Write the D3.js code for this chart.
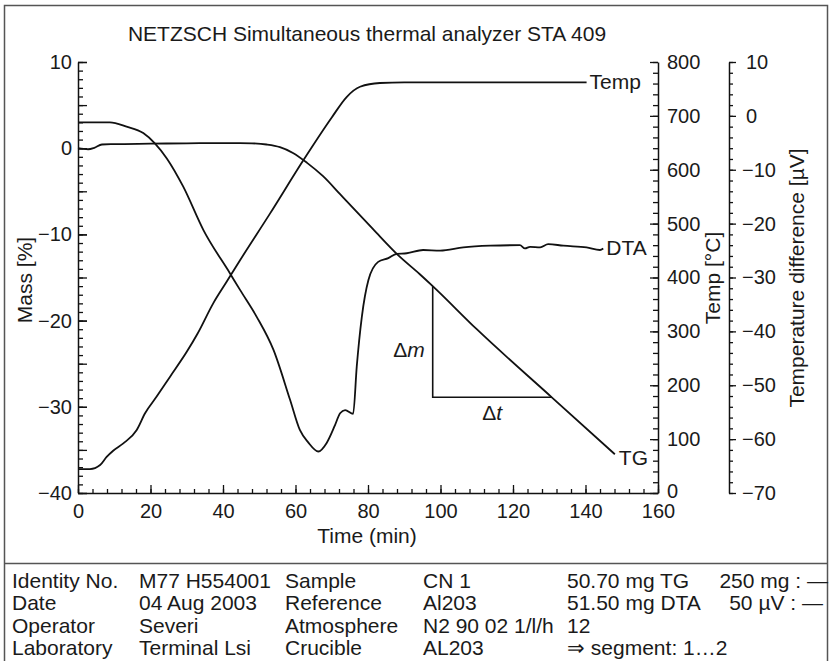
<!DOCTYPE html>
<html>
<head>
<meta charset="utf-8">
<script src="https://cdn.jsdelivr.net/npm/d3@7"></script>
<style>
  html, body { margin: 0; padding: 0; background: #fff; }
  svg { display: block; }
  text { font-family: "Liberation Sans", Arial, Helvetica, sans-serif; fill: #1a1a1a; }
</style>
</head>
<body>
<svg id="chart" width="831" height="661"></svg>
<script>
// ---------- DATA ----------
const title = "NETZSCH Simultaneous thermal analyzer STA 409";

// Time (min), Mass (%)
const tgTime = [0, 2.8, 4.5, 6.6, 10, 20, 30, 40, 44.7, 48, 52, 55.7, 59.3, 63.2, 67.6, 72.3, 74.1, 81.4, 88.3, 94.3, 97.85, 110, 130.7, 148.1];
const tgMass = [0, -0.12, 0.05, 0.43, 0.47, 0.52, 0.57, 0.6, 0.6, 0.57, 0.43, 0.12, -0.55, -1.7, -3.25, -5.34, -6.15, -9.4, -12.41, -14.62, -16.0, -21.0, -28.9, -35.5];

// Time (min), Temperature (°C)
const tempTime = [0, 3.3, 6.1, 7.9, 9.7, 12.5, 16.2, 18.5, 21.7, 25.4, 30, 33, 37.3, 41, 44.7, 53, 62.2, 70, 74.1, 77.8, 83.3, 90, 110, 140.3];
const tempValue = [44.5, 44.5, 52, 67, 78.5, 92, 117, 148, 179, 216, 262, 296, 352, 392, 432, 519, 618, 697, 735, 754, 761, 762, 762, 762];

// Time (min), Temperature difference (µV)
const dtaTime = [0, 8.8, 13.4, 18, 21.2, 24.5, 29, 34.6, 41.9, 44.7, 49.3, 53.9, 58.5, 61.2, 63.5, 66.3, 68.6, 70.9, 72.3, 73.7, 75.9, 76.9, 78.3, 80.1, 82.8, 85.6, 87.9, 90.7, 95.2, 99.9, 106.3, 113.7, 121.9, 123.3, 124.7, 127.5, 129.7, 133.9, 140.3, 144.0, 144.9];
const dtaValue = [-1.2, -1.2, -2.0, -3.2, -5.1, -7.9, -13.1, -21.2, -29.2, -32.3, -37.3, -43.4, -52.7, -58.3, -60.6, -62.3, -60.7, -57.4, -55.2, -54.6, -55.3, -46.5, -37.3, -30.5, -27.1, -26.4, -25.6, -25.5, -24.9, -25.0, -24.4, -24.1, -24.0, -24.6, -24.3, -24.4, -23.8, -24.1, -24.4, -24.9, -24.6];

// Δm / Δt construction (time, mass)
const deltaTimes = [97.85, 130.7];
const deltaMass = [-16.0, -28.9];

// Axis ticks
const timeTicks = [0, 20, 40, 60, 80, 100, 120, 140, 160];
const massTicks = [10, 0, -10, -20, -30, -40];
const tempTicks = [0, 100, 200, 300, 400, 500, 600, 700, 800];
const dtaTicks = [10, 0, -10, -20, -30, -40, -50, -60, -70];

// Info table
const infoCol1 = ["Identity No.", "Date", "Operator", "Laboratory"];
const infoCol2 = ["M77 H554001", "04 Aug 2003", "Severi", "Terminal Lsi"];
const infoCol3 = ["Sample", "Reference", "Atmosphere", "Crucible"];
const infoCol4 = ["CN 1", "Al203", "N2 90 02 1/l/h", "AL203"];
const infoCol5 = ["50.70 mg TG", "51.50 mg DTA", "12", "\u21D2 segment: 1\u20262"];
const infoCol6 = ["250 mg : \u2014", "50 \u00B5V : \u2014", "", ""];

// ---------- DRAWING ----------
const svg = d3.select("#chart");
const FS = 21;      // general text
const TFS = 20;     // tick labels

const x = d3.scaleLinear().domain([0, 160]).range([78, 658]);
const yMass = d3.scaleLinear().domain([-40, 10]).range([493, 62]);
const yTemp = d3.scaleLinear().domain([0, 800]).range([493, 62]);
const yDta = d3.scaleLinear().domain([-70, 10]).range([493, 62]);

// frame
svg.append("rect").attr("x", 4.5).attr("y", 5.5).attr("width", 823).attr("height", 660)
  .attr("fill", "none").attr("stroke", "#555").attr("stroke-width", 1.5);
svg.append("line").attr("x1", 4.5).attr("x2", 827.5).attr("y1", 563.5).attr("y2", 563.5)
  .attr("stroke", "#555").attr("stroke-width", 1.5);

svg.append("text").attr("x", 367).attr("y", 41).attr("text-anchor", "middle")
  .style("font-size", FS + "px").text(title);

function styleAxis(g, showDomain) {
  g.selectAll("line").attr("stroke", "#111").attr("stroke-width", 1.3);
  g.select(".domain").attr("stroke", showDomain ? "#111" : "none").attr("stroke-width", 1.5);
  g.selectAll("text").style("font-size", TFS + "px").attr("fill", "#1a1a1a")
    .style("font-family", '"Liberation Sans", Arial, sans-serif');
}

// Left (Mass) axis: ticks point inward
const gm1 = svg.append("g").attr("transform", "translate(78,0)")
  .call(d3.axisLeft(yMass).tickValues(d3.range(-40, 11, 1)).tickSizeInner(-5).tickSizeOuter(0).tickFormat(""));
styleAxis(gm1, true);
const gm2 = svg.append("g").attr("transform", "translate(78,0)")
  .call(d3.axisLeft(yMass).tickValues(d3.range(-40, 11, 5)).tickSizeInner(-9).tickSizeOuter(0).tickFormat(""));
styleAxis(gm2, false);
const gm3 = svg.append("g").attr("transform", "translate(78,0)")
  .call(d3.axisLeft(yMass).tickValues(massTicks).tickSizeInner(-9).tickSizeOuter(0).tickPadding(6));
styleAxis(gm3, false);

// Bottom (Time) axis
const gx1 = svg.append("g").attr("transform", "translate(0,493)")
  .call(d3.axisBottom(x).tickValues(d3.range(0, 161, 4)).tickSizeInner(-4).tickSizeOuter(0).tickFormat(""));
styleAxis(gx1, true);
const gx2 = svg.append("g").attr("transform", "translate(0,493)")
  .call(d3.axisBottom(x).tickValues(timeTicks).tickSizeInner(-8).tickSizeOuter(0).tickPadding(11));
styleAxis(gx2, false);

svg.append("text").attr("x", 367).attr("y", 543).attr("text-anchor", "middle")
  .style("font-size", FS + "px").text("Time (min)");

// Temp axis at right of plot: ticks pointing left, labels to the right
const gt1 = svg.append("g").attr("transform", "translate(658,0)")
  .call(d3.axisRight(yTemp).tickValues(d3.range(0, 801, 20)).tickSizeInner(-5).tickSizeOuter(0).tickFormat(""));
styleAxis(gt1, true);
const gt2 = svg.append("g").attr("transform", "translate(658,0)")
  .call(d3.axisRight(yTemp).tickValues(tempTicks).tickSizeInner(-8).tickSizeOuter(0).tickPadding(9));
styleAxis(gt2, false);
gt2.selectAll(".tick text").attr("dy", d => d === 0 ? "0.2em" : "0.32em");

// DTA axis
const gd1 = svg.append("g").attr("transform", "translate(729,0)")
  .call(d3.axisRight(yDta).tickValues(d3.range(-70, 11, 2)).tickSizeInner(4).tickSizeOuter(0).tickFormat(""));
styleAxis(gd1, true);
const gd2 = svg.append("g").attr("transform", "translate(729,0)")
  .call(d3.axisRight(yDta).tickValues(dtaTicks).tickSizeInner(7).tickSizeOuter(0).tickPadding(6));
styleAxis(gd2, false);
gd2.selectAll(".tick text").attr("dx", d => d >= 0 ? 4 : 0);

// Axis titles
svg.append("text").attr("transform", "translate(32,280) rotate(-90)").attr("text-anchor", "middle")
  .style("font-size", FS + "px").text("Mass [%]");
svg.append("text").attr("transform", "translate(720,278) rotate(-90)").attr("text-anchor", "middle")
  .style("font-size", FS + "px").text("Temp [\u00B0C]");
svg.append("text").attr("transform", "translate(804,278) rotate(-90)").attr("text-anchor", "middle")
  .style("font-size", FS + "px").text("Temperature difference [\u00B5V]");

// Curves
const tgData = tgTime.map((t, i) => [t, tgMass[i]]);
const tempData = tempTime.map((t, i) => [t, tempValue[i]]);
const dtaData = dtaTime.map((t, i) => [t, dtaValue[i]]);

const lineOf = (ys) => d3.line().x(d => x(d[0])).y(d => ys(d[1])).curve(d3.curveMonotoneX);

svg.append("path").datum(tgData).attr("d", lineOf(yMass))
  .attr("fill", "none").attr("stroke", "#111").attr("stroke-width", 1.8);
svg.append("path").datum(tempData).attr("d", lineOf(yTemp))
  .attr("fill", "none").attr("stroke", "#111").attr("stroke-width", 1.8);
svg.append("path").datum(dtaData).attr("d", lineOf(yDta))
  .attr("fill", "none").attr("stroke", "#111").attr("stroke-width", 1.8);

// Δm / Δt triangle
const tri = [[deltaTimes[0], deltaMass[0]], [deltaTimes[0], deltaMass[1]], [deltaTimes[1], deltaMass[1]]];
svg.append("path").datum(tri)
  .attr("d", d3.line().x(d => x(d[0])).y(d => yMass(d[1])))
  .attr("fill", "none").attr("stroke", "#111").attr("stroke-width", 1.6);
svg.append("text").attr("x", x(deltaTimes[0]) - 8).attr("y", yMass((deltaMass[0] + deltaMass[1]) / 2) + 15)
  .attr("text-anchor", "end").style("font-size", FS + "px")
  .html('\u0394<tspan font-style="italic">m</tspan>');
svg.append("text").attr("x", x((deltaTimes[0] + deltaTimes[1]) / 2)).attr("y", yMass(deltaMass[1]) + 23)
  .attr("text-anchor", "middle").style("font-size", FS + "px")
  .html('\u0394<tspan font-style="italic">t</tspan>');

// Curve labels
const lastTemp = tempData[tempData.length - 1];
const lastDta = dtaData[dtaData.length - 1];
const lastTg = tgData[tgData.length - 1];
svg.append("text").attr("x", x(lastTemp[0]) + 3).attr("y", yTemp(lastTemp[1]) + 7).style("font-size", FS + "px").text("Temp");
svg.append("text").attr("x", x(lastDta[0]) + 3).attr("y", yDta(lastDta[1]) + 7).style("font-size", FS + "px").text("DTA");
svg.append("text").attr("x", x(lastTg[0]) + 4).attr("y", yMass(lastTg[1]) + 11).style("font-size", FS + "px").text("TG");

// Info table
const rowY = [588, 610, 632.5, 655];
const cols = [[infoCol1, 12], [infoCol2, 139], [infoCol3, 285], [infoCol4, 423], [infoCol5, 567]];
cols.forEach(([arr, cx]) => {
  arr.forEach((s, i) => {
    svg.append("text").attr("x", cx).attr("y", rowY[i]).style("font-size", FS + "px").text(s);
  });
});
const col6End = [828, 823];
infoCol6.forEach((s, i) => {
  if (!s) return;
  svg.append("text").attr("x", col6End[i]).attr("y", rowY[i]).attr("text-anchor", "end")
    .style("font-size", FS + "px").text(s);
});
</script>
</body>
</html>
